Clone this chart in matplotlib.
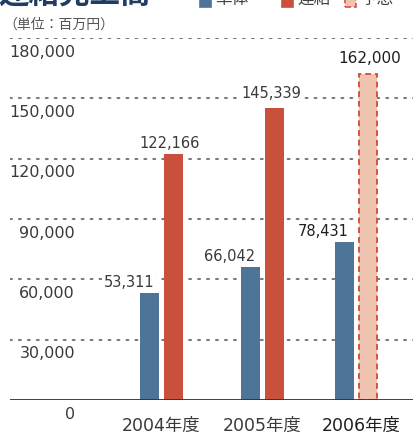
import matplotlib
matplotlib.use("Agg")
import matplotlib.pyplot as plt
from matplotlib.patches import Rectangle

# ---- data ----
categories = ["2004年度", "2005年度", "2006年度"]
blue_values = [53311, 66042, 78431]
red_values = [122166, 145339, 162000]
y_ticks = [0, 30000, 60000, 90000, 120000, 150000, 180000]

# ---- layout (pixel based x-axis) ----
W, H = 414, 435
group_x = [161.5, 262.5, 356.0]
cat_label_x = [161.5, 262.5, 361.5]
bar_off = 11.8
bar_w = 19

BLUE = "#4E7598"
RED = "#C9503B"
PINK = "#EFC4B1"
PINK_EDGE = "#D3543F"
TXT = "#3a3a3a"
TXT_DARK = "#1e1e1e"

fig = plt.figure(figsize=(W / 100, H / 100), dpi=100)
ax = fig.add_axes([10 / W, 34 / H, 404 / W, 362 / H])
ax.set_xlim(10, 414)
ax.set_ylim(0, 180000)
ax.axis("off")

# gridlines
for t in y_ticks[1:]:
    ax.axhline(t, color="#7a7a7a", lw=1.5, linestyle=(0, (0.9, 3.4)),
               dash_capstyle="round", zorder=1)
ax.axhline(0, color="#333333", lw=1.3, zorder=5)

# y tick labels (below the gridlines)
for t in y_ticks:
    ax.annotate(f"{t:,}", xy=(75, t), xytext=(0, -9.5), textcoords="offset points",
                ha="right", va="center", fontsize=11.5, color=TXT,
                family="DejaVu Sans", zorder=6)

# bars
bx = [g - bar_off for g in group_x]
rx = [g + bar_off for g in group_x]
ax.bar(bx, blue_values, width=bar_w, color=BLUE, zorder=3)
ax.bar(rx[:2], red_values[:2], width=bar_w, color=RED, zorder=3)
ax.bar(rx[2:], red_values[2:], width=bar_w - 1.5, color=PINK, edgecolor=PINK_EDGE,
       linewidth=1.4, linestyle=(0, (3, 2)), zorder=3)

box = dict(boxstyle="square,pad=0.12", fc="white", ec="none")

# blue value labels (above-left)
for i, v in enumerate(blue_values):
    last = i == 2
    ax.annotate(f"{v:,}", xy=(bx[i], v), xytext=(-15, 5), textcoords="offset points",
                ha="center", va="baseline", fontsize=10.5,
                color=TXT_DARK if last else TXT, family="DejaVu Sans",
                bbox=box, zorder=4)

# red value labels (above)
red_dx = [-2.5, -2, 1]
red_dy = [5, 8, 8.5]
for i, v in enumerate(red_values):
    last = i == 2
    ax.annotate(f"{v:,}", xy=(rx[i], v), xytext=(red_dx[i], red_dy[i]),
                textcoords="offset points", ha="center", va="baseline",
                fontsize=11 if last else 10.5,
                color=TXT_DARK if last else TXT, family="DejaVu Sans",
                bbox=box, zorder=4)

# category labels
for i, c in enumerate(categories):
    last = i == 2
    ax.annotate(c, xy=(cat_label_x[i], 0), xytext=(0, -18), textcoords="offset points",
                ha="center", va="center", fontsize=12.5,
                color=TXT_DARK if last else TXT,
                family=["DejaVu Sans", "Noto Sans CJK JP"], zorder=6)

# unit label
fig.text(3 / W, 1 - 25 / H, "（単位：百万円）", ha="left", va="center",
         fontsize=10, color="#555555", family=["Noto Sans CJK JP"])

# partially visible title and legend at the top edge (cut off, as in the reference)
fig.text(-2 / W, 1 + 6 / H, "連結売上高", ha="left", va="center", fontsize=22,
         fontweight="bold", color="#1F3C64", family=["Noto Sans CJK JP"])
leg_items = [(200, BLUE, None, "単体"), (282, RED, None, "連結"), (345, PINK, PINK_EDGE, "予想")]
for lx, fc, ec, lab in leg_items:
    fig.patches.append(Rectangle((lx / W, 1 - 8 / H), 11 / W, 16 / H,
                                 transform=fig.transFigure, facecolor=fc,
                                 edgecolor=ec if ec else fc,
                                 linestyle="--" if ec else "-", lw=1.2))
    fig.text((lx + 15) / W, 1 + 1 / H, lab, ha="left", va="center", fontsize=12,
             color="#444444", family=["Noto Sans CJK JP"])

fig.savefig("out.png", dpi=100)
